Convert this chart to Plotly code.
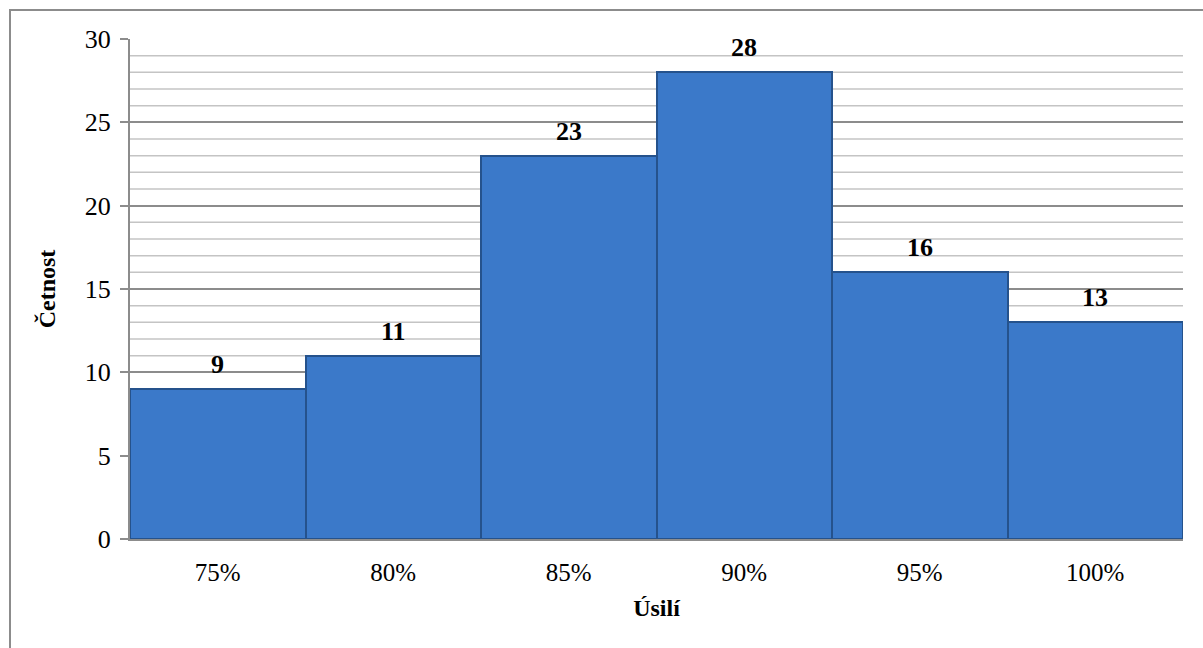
import plotly.graph_objects as go

categories = ["75%", "80%", "85%", "90%", "95%", "100%"]
values = [9, 11, 23, 28, 16, 13]
y_ticks = [0, 5, 10, 15, 20, 25, 30]

W, H = 1203, 648
L, R, T, B = 130, 20, 39, 109
pw, ph = W - L - R, H - T - B
FONT = "Times New Roman, Liberation Serif, serif"

fig = go.Figure()
fig.add_trace(go.Bar(
    x=categories, y=values,
    marker=dict(color="#3b79c9", line=dict(color="#25528c", width=2)),
    showlegend=False, hoverinfo="skip",
))

annotations = [
    dict(x=c, y=v, xref="x", yref="y", text=f"<b>{v}</b>", showarrow=False,
         yanchor="bottom", yshift=8, font=dict(family=FONT, size=26, color="black"))
    for c, v in zip(categories, values)
]

shapes = []
for v in range(1, 31):
    if v % 5 != 0:
        shapes.append(dict(type="line", xref="paper", yref="y", x0=0, x1=1, y0=v, y1=v,
                           line=dict(color="#c4c4c4", width=1.5), layer="below"))
shapes.append(dict(type="rect", xref="paper", yref="paper",
                   x0=(10 - L) / pw, x1=1.2, y0=-0.5, y1=(H - B - 10) / ph,
                   line=dict(color="#8c8c8c", width=2), fillcolor="rgba(0,0,0,0)", layer="below"))

fig.update_layout(
    width=W, height=H,
    margin=dict(l=L, r=R, t=T, b=B),
    paper_bgcolor="white", plot_bgcolor="white",
    bargap=0,
    shapes=shapes,
    annotations=annotations,
    font=dict(family=FONT, color="black", size=26),
    xaxis=dict(
        type="category", showgrid=False, showline=True, linecolor="#8c8c8c", linewidth=2,
        ticks="", tickfont=dict(size=25, family=FONT, color="black"), ticklabelstandoff=10,
        title=dict(text="<b>Úsilí</b>", font=dict(size=24, family=FONT), standoff=14),
    ),
    yaxis=dict(
        range=[0, 30], tickvals=y_ticks, showgrid=True, gridcolor="#8c8c8c", gridwidth=1.5,
        showline=True, linecolor="#8c8c8c", linewidth=2, zeroline=False,
        ticks="outside", ticklen=8, tickcolor="#8c8c8c", tickwidth=1.5,
        tickfont=dict(size=26, family=FONT, color="black"), ticklabelstandoff=4,
        title=dict(text="<b>Četnost</b>", font=dict(size=24, family=FONT), standoff=22),
    ),
)

fig.write_html("out.html")
